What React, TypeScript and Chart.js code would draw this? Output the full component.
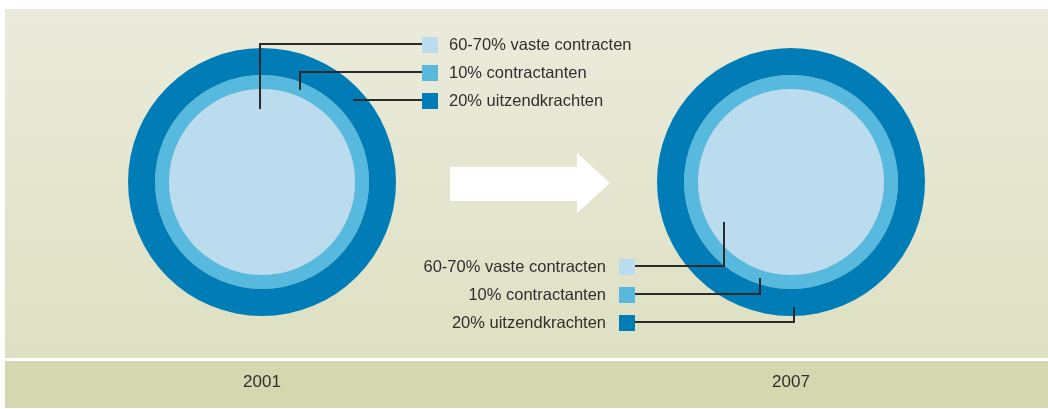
import React, { useEffect, useRef } from 'react';
import { Chart, registerables } from 'chart.js';

Chart.register(...registerables);

// ---- data ----
const YEARS = [2001, 2007];
const CATEGORIES = ['60-70% vaste contracten', '10% contractanten', '20% uitzendkrachten'];
const SHARES_2001 = [65, 10, 20];
const SHARES_2007 = [65, 10, 20];
const SHARES_BY_YEAR = [SHARES_2001, SHARES_2007];

// ---- styles ----
const COLORS = ['#bbdcee', '#56b9dd', '#007db6'];
const RING_WIDTHS = [93, 14, 27]; // inner, middle, outer (px weights)
const RADIUS = 134;
const W = 1048;
const H = 409;
const CENTER_Y = 182;
const X_MIN = 1998.028;
const X_MAX = 2009.915;
const FONT = '"Liberation Sans", Arial, sans-serif';
const TEXT_COLOR = '#2f2f2f';

const LEGENDS = [
  { boxX: 422, boxY: 37, textX: 449, align: 'left', anchors: [[-2, -73], [38, -92], [91, -82]] },
  { boxX: 619, boxY: 259, textX: 606, align: 'right', anchors: [[-67, 40], [-31, 96], [3, 125]] },
];

const backgroundPlugin = {
  id: 'panelBackground',
  beforeDraw(chart: any) {
    const { ctx } = chart;
    ctx.save();
    const g = ctx.createLinearGradient(0, 9, 0, 358);
    g.addColorStop(0, '#ebebdc');
    g.addColorStop(1, '#dee0c2');
    ctx.fillStyle = g;
    ctx.fillRect(5, 9, W - 5, 349);
    ctx.fillStyle = '#d5d7af';
    ctx.fillRect(5, 361, W - 5, 47);
    ctx.fillStyle = '#ffffff';
    ctx.beginPath();
    ctx.moveTo(450, 167);
    ctx.lineTo(577, 167);
    ctx.lineTo(577, 153);
    ctx.lineTo(610, 183);
    ctx.lineTo(577, 213);
    ctx.lineTo(577, 201);
    ctx.lineTo(450, 201);
    ctx.closePath();
    ctx.fill();
    ctx.restore();
  },
};

function makeLeaderPlugin(cfg: any) {
  return {
    id: 'leaderLegend',
    afterDraw(chart: any) {
      const { ctx } = chart;
      const arc = chart.getDatasetMeta(0).data[0];
      const cx = arc.x;
      const cy = arc.y;
      ctx.save();
      ctx.strokeStyle = '#2b2b2b';
      ctx.lineWidth = 2;
      ctx.font = `16.5px ${FONT}`;
      ctx.textBaseline = 'middle';
      CATEGORIES.forEach((label, i) => {
        const bx = cfg.boxX;
        const by = cfg.boxY + i * 28;
        const ly = by + 7;
        const ax = cx + cfg.anchors[i][0];
        const ay = cy + cfg.anchors[i][1];
        const edgeX = cfg.align === 'left' ? bx : bx + 16;
        ctx.beginPath();
        ctx.moveTo(edgeX, ly);
        ctx.lineTo(ax, ly);
        if (Math.abs(ay - ly) > 0.5) ctx.lineTo(ax, ay);
        ctx.stroke();
        ctx.fillStyle = COLORS[i];
        ctx.fillRect(bx, by, 16, 16);
        ctx.fillStyle = TEXT_COLOR;
        ctx.textAlign = cfg.align;
        ctx.fillText(label, cfg.textX, by + 8.5);
      });
      ctx.restore();
    },
  };
}

export default function App() {
  const mainRef = useRef<HTMLCanvasElement>(null);
  const d1Ref = useRef<HTMLCanvasElement>(null);
  const d2Ref = useRef<HTMLCanvasElement>(null);

  useEffect(() => {
    const main = new Chart(mainRef.current as HTMLCanvasElement, {
      type: 'scatter',
      data: { datasets: [{ data: [] }] },
      options: {
        responsive: false,
        animation: false,
        events: [],
        layout: { padding: 0 },
        plugins: { legend: { display: false }, tooltip: { enabled: false } },
        scales: {
          x: {
            type: 'linear',
            position: 'bottom',
            min: X_MIN,
            max: X_MAX,
            afterBuildTicks: (s: any) => {
              s.ticks = YEARS.map((v) => ({ value: v }));
            },
            afterFit: (s: any) => {
              s.height = 51;
            },
            ticks: {
              callback: (v: any) => String(v),
              font: { family: FONT, size: 17 },
              color: TEXT_COLOR,
              padding: 14,
              maxRotation: 0,
              autoSkip: false,
            },
            grid: { display: false, drawTicks: false },
            border: { display: false },
          },
          y: { display: false, min: 0, max: 1 },
        },
      } as any,
      plugins: [backgroundPlugin],
    });

    const refs = [d1Ref, d2Ref];
    const donuts = YEARS.map((year, k) => {
      const cx = main.scales.x.getPixelForValue(year);
      const padL = cx < W / 2 ? 0 : 2 * cx - W;
      const padR = cx < W / 2 ? W - 2 * cx : 0;
      const shares = SHARES_BY_YEAR[k];
      const order = [2, 1, 0]; // outer ring first
      return new Chart(refs[k].current as HTMLCanvasElement, {
        type: 'doughnut',
        data: {
          labels: [String(year)],
          datasets: order.map((i) => ({
            label: CATEGORIES[i],
            data: [shares[i]],
            backgroundColor: COLORS[i],
            borderWidth: 0,
            hoverOffset: 0,
            offset: 0,
            weight: RING_WIDTHS[i],
          })),
        },
        options: {
          responsive: false,
          animation: false,
          events: [],
          cutout: 0,
          radius: RADIUS,
          layout: { padding: { left: padL, right: padR, top: 0, bottom: H - 2 * CENTER_Y } },
          plugins: { legend: { display: false }, tooltip: { enabled: false } },
        } as any,
        plugins: [makeLeaderPlugin(LEGENDS[k])],
      });
    });

    return () => {
      donuts.forEach((d) => d.destroy());
      main.destroy();
    };
  }, []);

  const cs: React.CSSProperties = { position: 'absolute', left: 0, top: 0, display: 'block' };
  return (
    <div style={{ position: 'absolute', left: 0, top: 0, width: W, height: H, background: '#ffffff' }}>
      <canvas ref={mainRef} width={W} height={H} style={cs} />
      <canvas ref={d1Ref} width={W} height={H} style={cs} />
      <canvas ref={d2Ref} width={W} height={H} style={cs} />
    </div>
  );
}
